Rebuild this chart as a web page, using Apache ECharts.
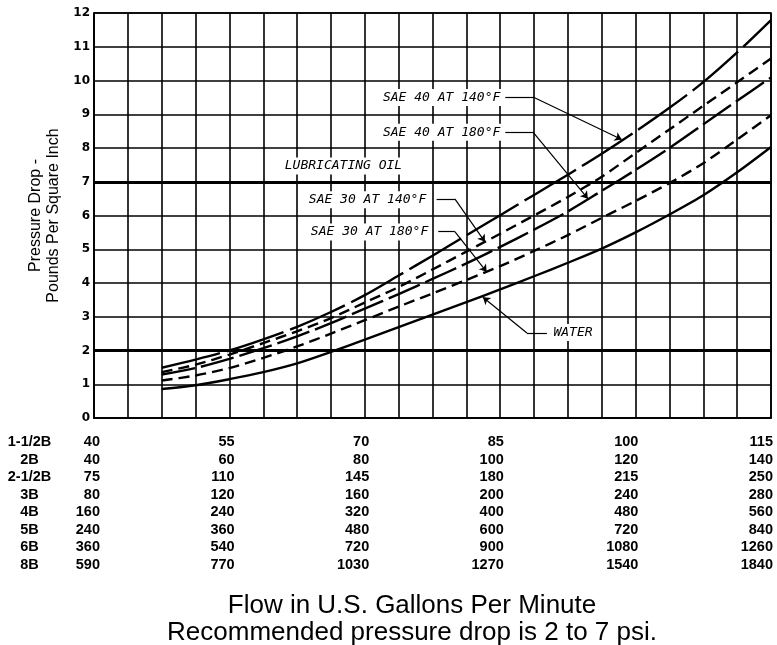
<!DOCTYPE html>
<html><head><meta charset="utf-8">
<script src="https://cdn.jsdelivr.net/npm/echarts@6/dist/echarts.min.js"></script>
<style>html,body{margin:0;padding:0;background:#fff}#c{width:777px;height:645px}</style>
</head><body><div id="c"></div>
<script>
// ---- data (x = flow scale position, 0..20 grid columns) ----
const flowPos   = [2,3,4,5,6,7,8,9,10,11,12,13,14,15,16,17,18,19,20];
const sae40_140 = [1.49,1.73,2.00,2.33,2.70,3.14,3.64,4.22,4.81,5.41,6.01,6.61,7.21,7.83,8.49,9.19,9.95,10.83,11.79];
const sae30_140 = [1.36,1.58,1.88,2.22,2.57,2.96,3.42,3.88,4.40,4.93,5.46,6.00,6.55,7.15,7.85,8.55,9.25,9.95,10.65];
const sae40_180 = [1.29,1.48,1.75,2.07,2.42,2.81,3.24,3.67,4.12,4.58,5.07,5.58,6.12,6.73,7.35,8.00,8.70,9.40,10.09];
const sae30_180 = [1.11,1.26,1.48,1.78,2.12,2.50,2.90,3.30,3.69,4.09,4.50,4.95,5.42,5.93,6.43,6.96,7.55,8.25,8.97];
const water     = [0.86,0.97,1.15,1.36,1.62,1.96,2.32,2.69,3.06,3.43,3.81,4.20,4.60,5.02,5.50,6.03,6.60,7.28,8.03];
const recommendedLimits = [2, 7];

const sizeNames = ['1-1/2B','2B','2-1/2B','3B','4B','5B','6B','8B'];
const flow_1_5B = [40,55,70,85,100,115];
const flow_2B   = [40,60,80,100,120,140];
const flow_2_5B = [75,110,145,180,215,250];
const flow_3B   = [80,120,160,200,240,280];
const flow_4B   = [160,240,320,400,480,560];
const flow_5B   = [240,360,480,600,720,840];
const flow_6B   = [360,540,720,900,1080,1260];
const flow_8B   = [590,770,1030,1270,1540,1840];
const flowRows  = [flow_1_5B, flow_2B, flow_2_5B, flow_3B, flow_4B, flow_5B, flow_6B, flow_8B];

const yAxisName = 'Pressure Drop -\nPounds Per Square Inch';
const footer = 'Flow in U.S. Gallons Per Minute\nRecommended pressure drop is 2 to 7 psi.';

// ---- chart ----
const chart = echarts.init(document.getElementById('c'), null, {renderer: 'canvas'});
const black = '#000';
const rowStep = 17.57;
const tableFont = {fontFamily: '"Liberation Sans", Arial, sans-serif', fontWeight: 'bold', fontSize: 14.5, color: black};
const annoLabel = {show: true, position: 'inside', color: black,
  fontFamily: '"DejaVu Sans Mono", monospace', fontStyle: 'italic', fontSize: 13,
  backgroundColor: '#fff', padding: [2, 3]};

function note(text, u, v) {
  return {coord: [u, v], symbol: 'circle', symbolSize: 0, itemStyle: {color: 'transparent'},
          label: Object.assign({}, annoLabel, {formatter: text})};
}
function leader(points) {
  const segs = [];
  for (let i = 0; i < points.length - 1; i++) {
    segs.push([{coord: points[i], symbol: 'none'},
               {coord: points[i + 1], symbol: i === points.length - 2 ? 'arrow' : 'none'}]);
  }
  return segs;
}
const markLineBase = {silent: true, animation: false, symbol: ['none', 'arrow'], symbolSize: 7,
  label: {show: false}, lineStyle: {color: black, width: 1.2, type: 'solid'}, emphasis: {disabled: true}};

function curve(name, vals, dash, notes, leaders, extraLines) {
  let mlData = [];
  leaders.forEach(l => { mlData = mlData.concat(leader(l)); });
  if (extraLines) mlData = mlData.concat(extraLines);
  return {
    type: 'line', name, xAxisIndex: 0, yAxisIndex: 0,
    data: flowPos.map((u, i) => [u, vals[i]]),
    smooth: 0.3, showSymbol: false, symbol: 'none', silent: true,
    lineStyle: {color: black, width: 2.4, type: dash},
    markPoint: {silent: true, animation: false, data: notes},
    markLine: Object.assign({}, markLineBase, {data: mlData})
  };
}

const limitLines = recommendedLimits.map(v => [
  {coord: [0, v], symbol: 'none', lineStyle: {width: 3.2, color: black}},
  {coord: [20, v], symbol: 'none'}
]);

const tableAxes = sizeNames.map((name, k) => ({
  gridIndex: 1, type: 'value', min: 0, max: 20, interval: 4, position: 'bottom', offset: k * rowStep,
  axisLine: {show: false}, axisTick: {show: false}, splitLine: {show: false},
  axisLabel: Object.assign({margin: 0, align: 'right', verticalAlign: 'middle',
    formatter: v => String(flowRows[k][Math.round(v / 4)])}, tableFont),
  name, nameLocation: 'start', nameGap: 70.5,
  nameTextStyle: Object.assign({align: 'center', verticalAlign: 'middle'}, tableFont)
}));

const option = {
  animation: false,
  backgroundColor: '#fff',
  title: {text: footer, left: 407, top: 587.5, textAlign: 'center',
    textStyle: {fontFamily: '"Liberation Sans", Arial, sans-serif', fontSize: 26, fontWeight: 'normal',
      color: black, lineHeight: 27}},
  grid: [
    {left: 94, top: 13, width: 677, height: 405, show: true, borderColor: black, borderWidth: 1.6,
     backgroundColor: 'transparent', containLabel: false, outerBoundsMode: 'none'},
    {left: 100, top: 400, width: 673, height: 42, containLabel: false, outerBoundsMode: 'none'}
  ],
  xAxis: [{
    gridIndex: 0, type: 'value', min: 0, max: 20, interval: 1,
    axisLabel: {show: false}, axisTick: {show: false},
    axisLine: {show: true, lineStyle: {color: black, width: 1.6}},
    splitLine: {show: true, lineStyle: {color: black, width: 1.6}}
  }].concat(tableAxes),
  yAxis: [{
    gridIndex: 0, type: 'value', min: 0, max: 12, interval: 1,
    axisTick: {show: false},
    axisLine: {show: true, lineStyle: {color: black, width: 1.6}},
    splitLine: {show: true, lineStyle: {color: black, width: 1.6}},
    axisLabel: {margin: 4, color: black, fontFamily: '"DejaVu Sans", sans-serif', fontWeight: 'bold', fontSize: 12},
    name: yAxisName, nameLocation: 'middle', nameRotate: 90, nameGap: 28,
    nameTextStyle: {fontFamily: '"Liberation Sans", Arial, sans-serif', fontSize: 16, lineHeight: 18, color: black}
  }, {
    gridIndex: 1, type: 'value', min: 0, max: 1, show: false
  }],
  series: [
    curve('SAE 40 AT 140°F', sae40_140, [60, 7],
      [note('SAE 40 AT 140°F', 10.27, 9.5), note('LUBRICATING OIL', 7.37, 7.47)],
      [[[12.15, 9.51], [12.97, 9.51], [15.59, 8.25]]]),
    curve('SAE 30 AT 140°F', sae30_140, [11, 6],
      [note('SAE 30 AT 140°F', 8.08, 6.47)],
      [[[10.12, 6.49], [10.66, 6.49], [11.55, 5.22]]]),
    curve('SAE 40 AT 180°F', sae40_180, [34, 6],
      [note('SAE 40 AT 180°F', 10.27, 8.47)],
      [[[12.15, 8.47], [12.97, 8.47], [14.59, 6.5]]]),
    curve('SAE 30 AT 180°F', sae30_180, [11, 6],
      [note('SAE 30 AT 180°F', 8.14, 5.51)],
      [[[10.17, 5.52], [10.66, 5.52], [11.6, 4.33]]]),
    curve('WATER', water, 'solid',
      [note('WATER', 14.15, 2.53)],
      [[[13.38, 2.52], [12.79, 2.52], [11.49, 3.58]]], limitLines)
  ]
};
chart.setOption(option);
</script>
</body></html>
